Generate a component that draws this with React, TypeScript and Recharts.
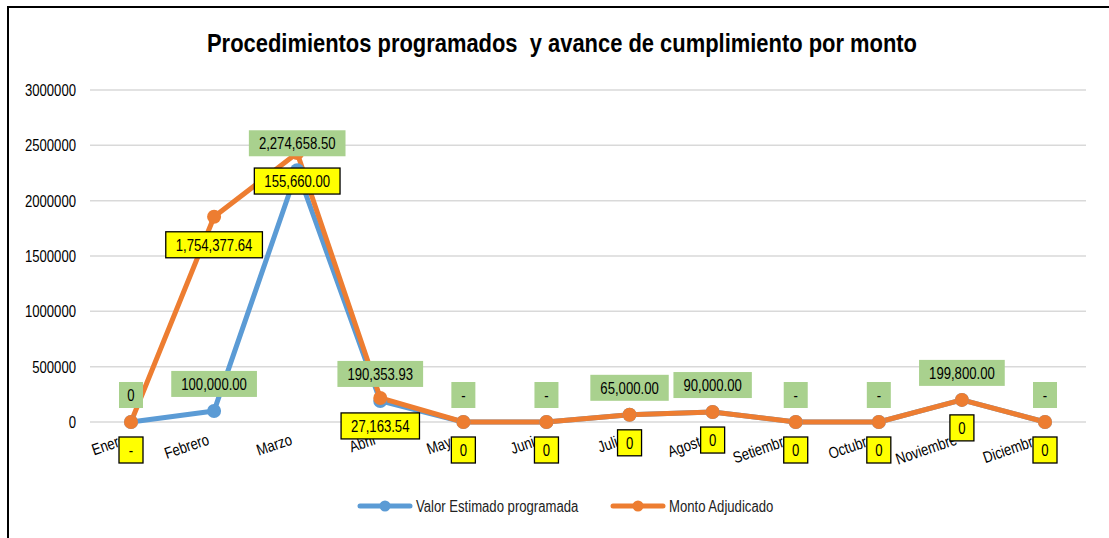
import React from 'react';
import {
  CartesianGrid,
  LabelList,
  Legend,
  Line,
  LineChart,
  XAxis,
  YAxis,
} from 'recharts';

const months = [
  'Enero', 'Febrero', 'Marzo', 'Abril', 'Mayo', 'Junio',
  'Julio', 'Agosto', 'Setiembre', 'Octubre', 'Noviembre', 'Diciembre',
];
const valorEstimado = [0, 100000, 2274658.5, 190353.93, 0, 0, 65000, 90000, 0, 0, 199800, 0];
const montoAdjudicado = [0, 1754377.64, 155660, 27163.54, 0, 0, 0, 0, 0, 0, 0, 0];
const valorLabels = ['0', '100,000.00', '2,274,658.50', '190,353.93', '-', '-', '65,000.00', '90,000.00', '-', '-', '199,800.00', '-'];
const montoLabels = ['-', '1,754,377.64', '155,660.00', '27,163.54', '0', '0', '0', '0', '0', '0', '0', '0'];
const yTicks = [0, 500000, 1000000, 1500000, 2000000, 2500000, 3000000];

// stacked line (como en Excel): el monto se apila sobre el valor estimado
const data = months.map((mes, i) => ({
  mes,
  valor: valorEstimado[i],
  monto: valorEstimado[i] + montoAdjudicado[i],
  valorLabel: valorLabels[i],
  montoLabel: montoLabels[i],
}));

const FONT = "'Liberation Sans', Arial, sans-serif";
const NARROW = 0.82; // no hay Arial Narrow, se comprime la Liberation Sans
const BLUE = '#5B9BD5';
const ORANGE = '#ED7D31';

const textWidth = (s: string) =>
  s.split('').reduce((w, c) => w + (/[0-9]/.test(c) ? 7.3 : c === '-' ? 4.4 : 3.65), 0);

const NarrowText = ({ x, y, anchor = 'start', rotate = 0, size = 16, children, fill = '#000' }: any) => (
  <g transform={`translate(${x},${y})${rotate ? ` rotate(${rotate})` : ''} scale(${NARROW},1)`}>
    <text x={0} y={0} textAnchor={anchor} fontFamily={FONT} fontSize={size} fill={fill}>
      {children}
    </text>
  </g>
);

const makeLabel = (fill: string, border: boolean, dy: number) => (props: any) => {
  const { x, y, value } = props;
  const t = String(value);
  const tw = textWidth(t);
  const w = tw < 10 ? 24 : tw + 20;
  const cy = y + dy;
  return (
    <g>
      <rect
        x={x - w / 2}
        y={cy - 13}
        width={w}
        height={26}
        fill={fill}
        stroke={border ? '#000' : 'none'}
        strokeWidth={border ? 1.3 : 0}
      />
      <NarrowText x={x} y={cy + 6} anchor="middle">{t}</NarrowText>
    </g>
  );
};

const GreenLabel = makeLabel('#A9D18E', false, -27);
const YellowLabel = makeLabel('#FFFF00', true, 28);

const MonthTick = (props: any) => {
  const { x, y, payload } = props;
  return (
    <NarrowText x={x - 4} y={y} anchor="end" rotate={-19}>
      {payload.value}
    </NarrowText>
  );
};

const ValueTick = (props: any) => {
  const { x, y, payload } = props;
  return (
    <NarrowText x={x} y={y + 6} anchor="end">
      {payload.value}
    </NarrowText>
  );
};

const legendItems = [
  { name: 'Valor Estimado programada', color: BLUE, x: 348 },
  { name: 'Monto Adjudicado', color: ORANGE, x: 601 },
];

const LegendContent = () => (
  <svg width={1100} height={28} style={{ display: 'block' }}>
    {legendItems.map((it) => (
      <g key={it.name}>
        <line x1={it.x + 3} y1={14} x2={it.x + 53} y2={14} stroke={it.color} strokeWidth={5} strokeLinecap="round" />
        <circle cx={it.x + 28} cy={14} r={5.5} fill={it.color} />
        <NarrowText x={it.x + 59} y={19.5} fill="#222">{it.name}</NarrowText>
      </g>
    ))}
  </svg>
);

const App = () => (
  <div
    style={{
      position: 'fixed',
      left: 7,
      top: 6,
      width: 1102,
      height: 532,
      borderLeft: '2px solid #000',
      borderTop: '2px solid #000',
      background: '#fff',
    }}
  >
    <svg width={1100} height={60} style={{ position: 'absolute', left: 0, top: 0, zIndex: 1 }}>
      <text
        x={198}
        y={44}
        textLength={710}
        lengthAdjust="spacingAndGlyphs"
        fontFamily={FONT}
        fontWeight="bold"
        fontSize={25}
        fill="#000"
        style={{ whiteSpace: 'pre' }}
      >
        Procedimientos programados  y avance de cumplimiento por monto
      </text>
    </svg>
    <LineChart
      width={1100}
      height={530}
      data={data}
      margin={{ top: 82, right: 23, left: 0, bottom: 18 }}
    >
      <CartesianGrid vertical={false} stroke="#D9D9D9" strokeWidth={1.5} />
      <XAxis
        dataKey="mes"
        interval={0}
        axisLine={false}
        tickLine={false}
        tickSize={0}
        tickMargin={22}
        height={70}
        padding={{ left: 41, right: 41 }}
        tick={<MonthTick />}
      />
      <YAxis
        width={81}
        domain={[0, 3000000]}
        ticks={yTicks}
        axisLine={false}
        tickLine={false}
        tickSize={0}
        tickMargin={14}
        tick={<ValueTick />}
      />
      <Legend verticalAlign="bottom" height={28} content={<LegendContent />} />
      <Line
        dataKey="valor"
        name="Valor Estimado programada"
        stroke={BLUE}
        strokeWidth={5}
        strokeLinejoin="round"
        dot={{ r: 7, fill: BLUE, stroke: BLUE, strokeWidth: 0 }}
        isAnimationActive={false}
      />
      <Line
        dataKey="monto"
        name="Monto Adjudicado"
        stroke={ORANGE}
        strokeWidth={5}
        strokeLinejoin="round"
        dot={{ r: 7, fill: ORANGE, stroke: ORANGE, strokeWidth: 0 }}
        isAnimationActive={false}
      />
      {/* etiquetas encima de las dos lineas */}
      <Line dataKey="valor" stroke="none" dot={false} activeDot={false} legendType="none" isAnimationActive={false}>
        <LabelList dataKey="valorLabel" content={GreenLabel} />
      </Line>
      <Line dataKey="monto" stroke="none" dot={false} activeDot={false} legendType="none" isAnimationActive={false}>
        <LabelList dataKey="montoLabel" content={YellowLabel} />
      </Line>
    </LineChart>
  </div>
);

export default App;
